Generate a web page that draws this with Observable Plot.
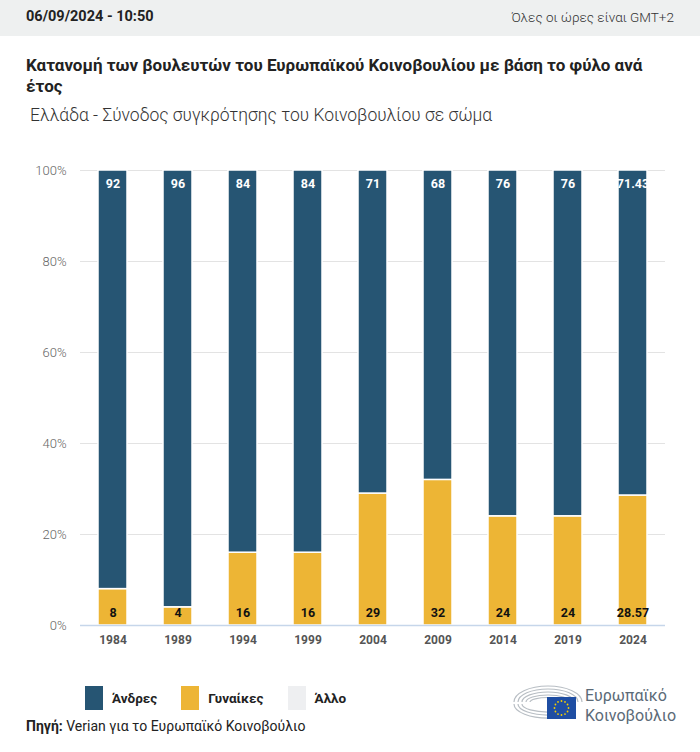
<!DOCTYPE html>
<html><head><meta charset="utf-8">
<script src="https://cdn.jsdelivr.net/npm/d3@7"></script>
<script src="https://cdn.jsdelivr.net/npm/@observablehq/plot@0.6"></script>
<style>
body{margin:0;width:700px;height:752px;position:relative;font-family:Roboto,"Noto Sans",sans-serif;background:#fff;overflow:hidden}
#hdr{position:absolute;left:0;top:0;width:700px;height:36px;background:#eef0f0}
#date{position:absolute;left:26px;top:8px;font-weight:700;font-size:14.5px;color:#222}
#tz{position:absolute;right:26px;top:9px;font-size:13.5px;color:#333;font-weight:300}
#title{position:absolute;left:26px;top:55px;width:645px;font-weight:700;font-size:17px;line-height:21px;color:#222}
#sub{position:absolute;left:30px;top:105px;font-size:17.5px;font-weight:300;color:#333}
#chart{position:absolute;left:0;top:150px}
#legend{position:absolute;left:85px;top:686px;display:flex;align-items:center;font-size:13.5px;font-weight:700;color:#222}
.sw{width:18px;height:24px;display:inline-block;margin-right:9px}
.it{display:flex;align-items:center;margin-right:24px}
#src{position:absolute;left:26px;top:718px;font-size:14px;color:#222}
#logo{position:absolute;left:510px;top:680px}
</style></head><body>
<div id="hdr"><div id="date">06/09/2024 - 10:50</div><div id="tz">Όλες οι ώρες είναι GMT+2</div></div>
<div id="title">Κατανομή των βουλευτών του Ευρωπαϊκού Κοινοβουλίου με βάση το φύλο ανά έτος</div>
<div id="sub">Ελλάδα - Σύνοδος συγκρότησης του Κοινοβουλίου σε σώμα</div>
<div id="chart"></div>
<div id="legend"></div>
<div id="src"><b>Πηγή:</b> Verian για το Ευρωπαϊκό Κοινοβούλιο</div>
<div id="logo">
<svg width="185" height="45" viewBox="0 0 185 45">
<g fill="none" stroke="#b8bec4" stroke-width="1.2">
<path d="M4 22 A34 16 0 0 1 72 22"/>
<path d="M8 22 A30 13 0 0 1 68 22"/>
<path d="M12 22 A26 10 0 0 1 64 22"/>
<path d="M16 22 A22 7 0 0 1 60 22"/>
<path d="M20 22 A18 4.5 0 0 1 56 22"/>
<path d="M4 24 A34 14 0 0 0 40 38"/>
<path d="M8 24 A30 11 0 0 0 40 35"/>
<path d="M12 24 A26 8 0 0 0 40 32"/>
</g>
<rect x="37" y="17" width="29" height="22" fill="#1f4ea3"/>
<g fill="#f5d000" id="stars"></g>
<text x="75" y="21" font-size="16" fill="#5b6a77" font-family="Roboto,sans-serif">Ευρωπαϊκό</text>
<text x="75" y="41" font-size="16" fill="#5b6a77" font-family="Roboto,sans-serif">Κοινοβούλιο</text>
</svg></div>
<script>
const years = ["1984","1989","1994","1999","2004","2009","2014","2019","2024"];
const men = [92,96,84,84,71,68,76,76,71.43];
const women = [8,4,16,16,29,32,24,24,28.57];
const series = ["Άνδρες","Γυναίκες","Άλλο"];
const colors = ["#265573","#edb535","#eeeff1"];
const yTicks = [0,20,40,60,80,100];

const rows = [];
years.forEach((y,i)=>{
  rows.push({year:y, sex:"Γυναίκες", value:women[i], o:0});
  rows.push({year:y, sex:"Άνδρες", value:men[i], o:1});
});
const mr = years.map((y,i)=>({year:y, v:men[i]}));
const wr = years.map((y,i)=>({year:y, v:women[i]}));

const chart = Plot.plot({
  width:700, height:510,
  marginLeft:80, marginRight:35, marginTop:20, marginBottom:35,
  style:{fontFamily:"Roboto, sans-serif", background:"transparent"},
  x:{domain:years, paddingInner:0.554, paddingOuter:0.277, label:null, tickSize:0, tickPadding:10},
  y:{domain:[0,100], ticks:yTicks, label:null, tickSize:0, tickPadding:14, tickFormat:d=>d+"%"},
  color:{domain:series, range:colors},
  marks:[
    Plot.gridY(yTicks,{stroke:"#e3e3e3", strokeOpacity:1}),
    Plot.barY(rows, Plot.stackY({x:"year", y:"value", fill:"sex", order:"o", stroke:"white", strokeWidth:1.5})),
    Plot.ruleY([0],{stroke:"#c6d6ea", strokeWidth:1.5}),
    Plot.text(mr,{x:"year", y:100, text:d=>String(d.v), dy:13, fill:"white", fontWeight:700, fontSize:12.5}),
    Plot.text(wr,{x:"year", y:0, text:d=>String(d.v), dy:-13, fill:"#111", fontWeight:700, fontSize:12.5})
  ]
});
document.getElementById("chart").appendChild(chart);
const svg = d3.select(chart);
svg.selectAll("[aria-label='y-axis tick label'] text").attr("fill","#666").style("font-size","13px").style("font-weight","300");
svg.selectAll("[aria-label='x-axis tick label'] text").attr("fill","#555").style("font-size","12px").style("font-weight","700");

const lg = document.getElementById("legend");
series.forEach((s,i)=>{
  const d = document.createElement("div"); d.className="it";
  d.innerHTML = `<span class="sw" style="background:${colors[i]}"></span>${s}`;
  lg.appendChild(d);
});
const st = d3.select("#stars");
for(let k=0;k<12;k++){const a=k/12*2*Math.PI; st.append("circle").attr("cx",51.5+7*Math.cos(a)).attr("cy",28+7*Math.sin(a)).attr("r",0.9);}
</script>
</body></html>
